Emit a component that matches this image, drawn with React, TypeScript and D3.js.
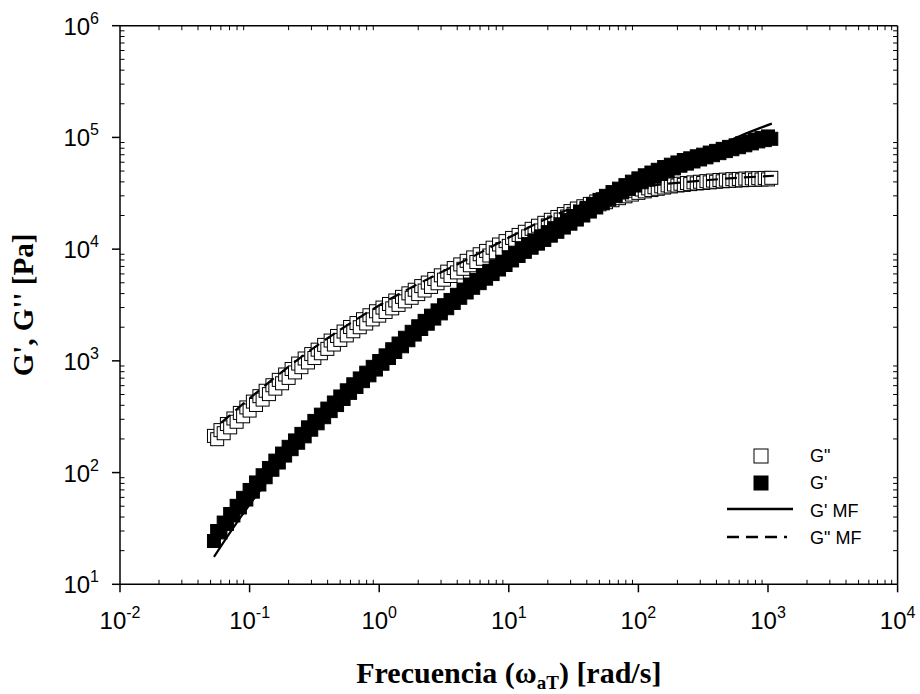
import React from "react";
import * as d3 from "d3";

// Reduced frequency (rad/s) of the master-curve points, first run
const freqRunA = [
  0.0531, 0.0596, 0.0668, 0.075, 0.0841, 0.0944,
  0.106, 0.119, 0.133, 0.15, 0.168, 0.188, 0.211, 0.237, 0.266, 0.299,
  0.335, 0.376, 0.422, 0.473, 0.531, 0.596, 0.668, 0.75, 0.841, 0.944,
  1.06, 1.19, 1.33, 1.5, 1.68, 1.88, 2.11, 2.37, 2.66, 2.99,
  3.35, 3.76, 4.22, 4.73, 5.31, 5.96, 6.68, 7.5, 8.41, 9.44,
  10.6, 11.9, 13.3, 15.0, 16.8, 18.8, 21.1, 23.7, 26.6, 29.9,
  33.5, 37.6, 42.2, 47.3, 53.1, 59.6, 66.8, 75.0, 84.1, 94.4,
  106, 119, 133, 150, 168, 188, 211, 237, 266, 299,
  335, 376, 422, 473, 531, 596, 668, 750, 841, 944,
  1060,
];

// Loss modulus G'' (Pa), first run
const gLossRunA = [
  213, 240, 272, 305, 342, 383,
  432, 483, 540, 605, 676, 755, 846, 946, 1050, 1150,
  1260, 1390, 1520, 1670, 1830, 2010, 2180, 2360, 2560, 2780,
  3000, 3230, 3470, 3740, 4020, 4330, 4670, 5020, 5410, 5830,
  6290, 6770, 7300, 7860, 8430, 9000, 9640, 10300, 11000, 11800,
  12600, 13400, 14300, 15200, 16200, 17200, 18300, 19400, 20600, 21900,
  23100, 24200, 25400, 26700, 28000, 29100, 30200, 31300, 32300, 33300,
  34200, 35000, 35800, 36500, 37200, 37900, 38500, 39100, 39600, 40100,
  40600, 41100, 41600, 41900, 42300, 42500, 42800, 43000, 43200, 43400,
  43500,
];

// Storage modulus G' (Pa), first run
const gStorageRunA = [
  24.4, 29.1, 34.7, 41.3, 48.7, 57.4,
  67.5, 78.2, 90.8, 106, 123, 142, 162, 185, 211, 242,
  276, 313, 355, 402, 456, 517, 584, 658, 742, 836,
  942, 1060, 1200, 1350, 1530, 1720, 1930, 2150, 2390, 2660,
  2960, 3300, 3670, 4090, 4510, 4960, 5440, 5980, 6570, 7210,
  7920, 8690, 9460, 10300, 11200, 12100, 13200, 14300, 15600, 16900,
  18400, 20000, 21700, 23600, 25700, 27900, 30000, 32200, 34600, 37100,
  39700, 42100, 44500, 47100, 49900, 52800, 55800, 58300, 60900, 63500,
  66300, 69300, 72300, 75400, 78400, 81700, 85000, 88400, 92100, 94600,
  97200,
];

// Reduced frequency (rad/s), second run
const freqRunB = [
  0.0562, 0.0631, 0.0708, 0.0794, 0.0891,
  0.1, 0.112, 0.126, 0.141, 0.158, 0.178, 0.2, 0.224, 0.251, 0.282,
  0.316, 0.355, 0.398, 0.447, 0.501, 0.562, 0.631, 0.708, 0.794, 0.891,
  1.0, 1.12, 1.26, 1.41, 1.58, 1.78, 2.0, 2.24, 2.51, 2.82,
  3.16, 3.55, 3.98, 4.47, 5.01, 5.62, 6.31, 7.08, 7.94, 8.91,
  10, 11.2, 12.6, 14.1, 15.8, 17.8, 20, 22.4, 25.1, 28.2,
  31.6, 35.5, 39.8, 44.7, 50.1, 56.2, 63.1, 70.8, 79.4, 89.1,
  100, 112, 126, 141, 158, 178, 200, 224, 251, 282,
  316, 355, 398, 447, 501, 562, 631, 708, 794, 891,
  1000,
];

// Loss modulus G'' (Pa), second run
const gLossRunB = [
  199, 225, 254, 285, 319,
  359, 403, 450, 504, 564, 630, 704, 788, 878, 968,
  1060, 1170, 1280, 1400, 1540, 1690, 1840, 2000, 2160, 2350,
  2540, 2740, 2950, 3170, 3410, 3670, 3960, 4260, 4590, 4950,
  5330, 5750, 6190, 6670, 7170, 7670, 8200, 8770, 9370, 10000,
  10700, 11400, 12200, 13000, 13800, 14700, 16300, 17300, 18400, 19600,
  20700, 21800, 22800, 24000, 25200, 26300, 27400, 28600, 29700, 30800,
  31900, 32900, 33800, 34700, 35600, 36400, 37100, 37600, 38200, 38700,
  39100, 39600, 40100, 40500, 40800, 41100, 41400, 41600, 41800, 42000,
  42100,
];

// Storage modulus G' (Pa), second run
const gStorageRunB = [
  30.0, 35.7, 42.6, 50.4, 59.4,
  69.9, 81.6, 94.6, 110, 128, 148, 170, 194, 222, 254,
  290, 330, 374, 424, 480, 545, 617, 696, 784, 884,
  996, 1120, 1270, 1430, 1610, 1820, 2040, 2280, 2540, 2830,
  3150, 3510, 3900, 4350, 4820, 5300, 5820, 6400, 7030, 7720,
  8470, 9300, 10200, 11100, 12000, 13000, 14200, 15400, 16700, 18200,
  19800, 21500, 23400, 25400, 27600, 30000, 32400, 34800, 37400, 40200,
  43000, 45800, 48500, 51300, 54300, 57000, 59700, 62800, 65000, 67800,
  70100, 73200, 75800, 79000, 82300, 84900, 88400, 91900, 95700, 99000,
  102000,
];

// Model fit (MF) curves
const fitFreqStorage = [0.0531, 0.0745, 0.101, 0.181, 0.331, 1.01, 5.02, 29.6, 103, 298, 608, 1070];
const fitStorage = [17.6, 31.9, 52.4, 125, 261, 899, 4320, 17500, 41800, 70000, 103000, 133000];
const fitFreqLoss = [0.0601, 0.101, 0.244, 1.01, 5.02, 29.6, 103, 298, 1110];
const fitLoss = [278, 466, 1060, 3160, 8340, 22900, 35400, 40900, 45400];

const xTickExponents = [-2, -1, 0, 1, 2, 3, 4];
const yTickExponents = [1, 2, 3, 4, 5, 6];
const legendLabels = ['G"', "G'", "G' MF", 'G" MF'];

const W = 920;
const H = 694;
const SANS = "'Liberation Sans', Arial, sans-serif";
const SERIF = "'Liberation Serif', 'Times New Roman', serif";

type Pt = { f: number; g: number };

const merge = (fa: number[], ga: number[], fb: number[], gb: number[]): Pt[] =>
  [...fa.map((f, i) => ({ f, g: ga[i] })), ...fb.map((f, i) => ({ f, g: gb[i] }))].sort(
    (a, b) => a.f - b.f
  );

export default function App() {
  const x = d3.scaleLog().domain([1e-2, 1e4]).range([120, 897.6]);
  const y = d3.scaleLog().domain([1e1, 1e6]).range([584.3, 25.7]);
  const [xL, xR] = x.range();
  const [yB, yT] = y.range();

  const isMajor = (v: number) => Math.abs(Math.log10(v) - Math.round(Math.log10(v))) < 1e-9;
  const xMinor = x.ticks().filter((v) => !isMajor(v));
  const yMinor = y.ticks().filter((v) => !isMajor(v));

  const loss = merge(freqRunA, gLossRunA, freqRunB, gLossRunB);
  const storage = merge(freqRunA, gStorageRunA, freqRunB, gStorageRunB);
  const fitS = fitFreqStorage.map((f, i) => ({ f, g: fitStorage[i] }));
  const fitL = fitFreqLoss.map((f, i) => ({ f, g: fitLoss[i] }));

  const line = d3
    .line<Pt>()
    .x((d) => x(d.f))
    .y((d) => y(d.g))
    .curve(d3.curveMonotoneX);

  const S = 13; // marker side
  const lw = 1.5;

  return (
    <svg
      width={W}
      height={H}
      viewBox={`0 0 ${W} ${H}`}
      style={{ position: "absolute", left: 0, top: 0, background: "#fff" }}
    >
      <rect x={0} y={0} width={W} height={H} fill="#fff" />

      {/* G'' open squares */}
      <g>
        {loss.map((d, i) => (
          <rect
            key={`l${i}`}
            x={x(d.f) - S / 2}
            y={y(d.g) - S / 2}
            width={S}
            height={S}
            fill="#fff"
            stroke="#000"
            strokeWidth={1}
          />
        ))}
      </g>
      {/* G' filled squares */}
      <g>
        {storage.map((d, i) => (
          <rect
            key={`s${i}`}
            x={x(d.f) - S / 2}
            y={y(d.g) - S / 2}
            width={S}
            height={S}
            fill="#000"
            stroke="#000"
            strokeWidth={1}
          />
        ))}
      </g>
      {/* model fits */}
      <path d={line(fitS) || ""} fill="none" stroke="#000" strokeWidth={2.2} />
      <path d={line(fitL) || ""} fill="none" stroke="#000" strokeWidth={2.2} strokeDasharray="12 7" />

      {/* frame */}
      <g stroke="#000" strokeWidth={lw} fill="none">
        <line x1={xL} x2={xR} y1={yB} y2={yB} />
        <line x1={xL} x2={xR} y1={yT} y2={yT} />
        <line x1={xL} x2={xL} y1={yB} y2={yT} />
        <line x1={xR} x2={xR} y1={yB} y2={yT} />
      </g>

      {/* x ticks */}
      <g stroke="#000" strokeWidth={1}>
        {xTickExponents.map((e) => (
          <line key={`xM${e}`} x1={x(10 ** e)} x2={x(10 ** e)} y1={yB} y2={yB + 8} strokeWidth={lw} />
        ))}
        {xMinor.map((v, i) => (
          <g key={`xm${i}`}>
            <line x1={x(v)} x2={x(v)} y1={yB} y2={yB - 4.5} />
            <line x1={x(v)} x2={x(v)} y1={yT} y2={yT + 4.5} />
          </g>
        ))}
      </g>
      {/* y ticks */}
      <g stroke="#000" strokeWidth={1}>
        {yTickExponents.map((e) => (
          <line key={`yM${e}`} x1={xL - 8} x2={xL} y1={y(10 ** e)} y2={y(10 ** e)} strokeWidth={lw} />
        ))}
        {yMinor.map((v, i) => (
          <g key={`ym${i}`}>
            <line x1={xL} x2={xL + 4.5} y1={y(v)} y2={y(v)} />
            <line x1={xR} x2={xR - 4.5} y1={y(v)} y2={y(v)} />
          </g>
        ))}
      </g>

      {/* x tick labels */}
      <g fontFamily={SANS} fill="#000">
        {xTickExponents.map((e) => (
          <text key={`xl${e}`} x={x(10 ** e)} y={629} textAnchor="middle" fontSize={24}>
            <tspan>10</tspan>
            <tspan dy={-11} fontSize={16}>{String(e)}</tspan>
          </text>
        ))}
      </g>
      {/* y tick labels */}
      <g fontFamily={SANS} fill="#000">
        {yTickExponents.map((e) => (
          <text key={`yl${e}`} x={99} y={y(10 ** e) + 9} textAnchor="end" fontSize={24}>
            <tspan>10</tspan>
            <tspan dy={-11} fontSize={16}>{String(e)}</tspan>
          </text>
        ))}
      </g>

      {/* axis titles */}
      <text
        x={(xL + xR) / 2}
        y={683}
        textAnchor="middle"
        fontFamily={SERIF}
        fontWeight="bold"
        fontSize={30}
        fill="#000"
      >
        <tspan>Frecuencia (ω</tspan>
        <tspan dy={6} fontSize={19}>aT</tspan>
        <tspan dy={-6}>) [rad/s]</tspan>
      </text>
      <text
        transform={`translate(33, ${(yB + yT) / 2}) rotate(-90)`}
        textAnchor="middle"
        fontFamily={SERIF}
        fontWeight="bold"
        fontSize={29}
        fill="#000"
      >
        G', G'' [Pa]
      </text>

      {/* legend */}
      <g fontFamily={SANS} fontSize={18} fill="#000">
        <rect x={761 - 7} y={456 - 7} width={14} height={14} fill="#fff" stroke="#000" strokeWidth={1} />
        <rect x={761 - 7} y={483 - 7} width={14} height={14} fill="#000" stroke="#000" strokeWidth={1} />
        <line x1={727} x2={793} y1={509} y2={509} stroke="#000" strokeWidth={2.6} />
        <line x1={727} x2={787} y1={537} y2={537} stroke="#000" strokeWidth={2.6} strokeDasharray="12 7" />
        {legendLabels.map((t, i) => (
          <text key={t} x={810} y={[462, 489, 517, 544][i]}>
            {t}
          </text>
        ))}
      </g>
    </svg>
  );
}
